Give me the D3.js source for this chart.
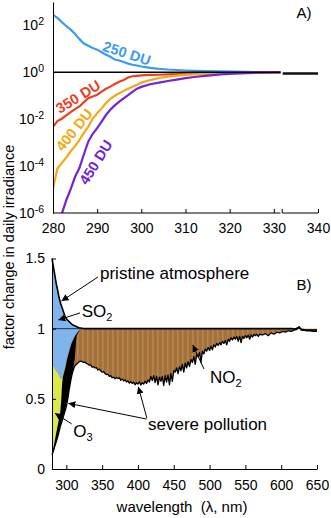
<!DOCTYPE html>
<html>
<head>
<meta charset="utf-8">
<script src="https://cdn.jsdelivr.net/npm/d3@7"></script>
<style>
  body { margin: 0; background: #fff; }
  svg { display: block; font-family: "Liberation Sans", Arial, Helvetica, sans-serif; }
</style>
</head>
<body>
<script>
// ---- panel A: factor change vs ozone column (log scale) ----
const waveA = [280, 281, 282, 283, 284, 285, 286, 287, 288, 289, 290, 291, 292, 293, 294, 295, 296, 297, 298, 299, 300, 302, 304, 306, 308, 310, 312, 315, 318, 321, 324, 327, 330, 331.5]
const du250 = [282, 209, 138, 95, 66, 43, 26, 17, 13.5, 11, 9.3, 7.2, 5.6, 4.6, 3.5, 3.2, 2.75, 2.35, 2.1, 1.95, 1.78, 1.55, 1.41, 1.32, 1.26, 1.2, 1.16, 1.12, 1.1, 1.07, 1.05, 1.02, 1.01, 1.0]
const du350 = [0.0048, 0.0083, 0.0105, 0.0145, 0.02, 0.027, 0.035, 0.054, 0.079, 0.093, 0.11, 0.15, 0.2, 0.245, 0.32, 0.4, 0.47, 0.6, 0.68, 0.71, 0.74, 0.78, 0.79, 0.82, 0.85, 0.87, 0.89, 0.91, 0.93, 0.95, 0.966, 0.977, 0.989, 0.993]
const du400 = [1.1e-5, 7.9e-5, 1.38e-4, 2.3e-4, 4.3e-4, 7.1e-4, 1.32e-3, 2.6e-3, 4.8e-3, 0.0107, 0.018, 0.029, 0.049, 0.074, 0.1, 0.129, 0.162, 0.2, 0.245, 0.295, 0.363, 0.468, 0.575, 0.66, 0.724, 0.776, 0.822, 0.871, 0.902, 0.933, 0.955, 0.973, 0.986, 0.991]
const du450 = [1.6e-7, 4e-7, 9.3e-7, 3.5e-6, 1.05e-5, 3.5e-5, 8.5e-5, 3.2e-4, 1.12e-3, 2.4e-3, 4.2e-3, 7.9e-3, 0.0151, 0.0257, 0.039, 0.056, 0.078, 0.107, 0.148, 0.2, 0.24, 0.31, 0.363, 0.427, 0.49, 0.562, 0.631, 0.724, 0.813, 0.881, 0.933, 0.966, 0.984, 0.989]
const refWaveA = [280, 331.5]
const refA = [1, 1]
const tailWaveA = [332, 340]
const tailA = [0.9, 0.9]
const xTicksA = [280, 290, 300, 310, 320, 330, 340]
const yTicksA = [1e-6, 1e-4, 1e-2, 1, 1e2]

// ---- panel B: pristine vs severe pollution ----
const uvWave = [280, 282, 284, 286, 288, 290, 292, 294, 296, 298, 300, 302, 304, 306, 308, 310, 312, 314, 316, 318, 320, 322, 324, 326, 328, 330]
const pristineUV = [1.5, 1.44, 1.38, 1.32, 1.27, 1.22, 1.18, 1.15, 1.12, 1.09, 1.07, 1.06, 1.05, 1.04, 1.03, 1.025, 1.02, 1.015, 1.01, 1.007, 1.005, 1.003, 1.001, 1.0, 1.0, 1.0]
const afterSO2 = [0.76, 0.735, 0.715, 0.7, 0.685, 0.665, 0.645, 0.645, 0.67, 0.72, 0.77, 0.81, 0.845, 0.875, 0.905, 0.93, 0.95, 0.965, 0.978, 0.99, 0.996, 1.0, 1.0, 1.0, 1.0, 1.0]
const severeUV = [0.1, 0.13, 0.165, 0.195, 0.23, 0.27, 0.31, 0.34, 0.375, 0.41, 0.445, 0.5, 0.565, 0.625, 0.675, 0.71, 0.735, 0.745, 0.755, 0.765, 0.768, 0.765, 0.76, 0.762, 0.752, 0.748]
const pristineTailWave = [400, 500, 600, 615, 620, 625, 628, 635, 650]
const pristineTail = [1.0, 1.0, 1.0, 1.0, 0.998, 1.012, 0.995, 0.99, 0.99]
const visWave = [332, 334, 336, 338, 340, 342, 344, 346, 348, 350, 352, 354, 356, 358, 360, 362, 364, 366, 368, 370,
  372, 374, 376, 378, 380, 382, 384, 386, 388, 390, 392, 394, 396, 398, 400, 402, 404, 406, 408, 410,
  412, 414, 416, 418, 420, 422, 424, 426, 428, 430, 432, 434, 436, 438, 440, 442, 444, 446, 448, 450,
  452, 454, 456, 458, 460, 462, 464, 466, 468, 470, 472, 474, 476, 478, 480, 482, 484, 486, 488, 490,
  492, 494, 496, 498, 500, 502, 504, 506, 508, 510, 512, 514, 516, 518, 520, 522, 524, 526, 528, 530,
  532, 534, 536, 538, 540, 542, 544, 546, 548, 550, 552, 554, 556, 558, 560, 562, 564, 566, 568, 570,
  574, 578, 582, 586, 590, 594, 598, 602, 606, 610, 614, 618, 622, 625, 628, 632, 636, 640, 645, 650]
const severeVis = [0.74, 0.742, 0.725, 0.73, 0.72, 0.722, 0.705, 0.712, 0.7, 0.69, 0.695, 0.68, 0.672, 0.676, 0.66, 0.665, 0.65, 0.655, 0.642, 0.652,
  0.645, 0.65, 0.632, 0.642, 0.628, 0.635, 0.62, 0.628, 0.612, 0.622, 0.61, 0.618, 0.6, 0.615, 0.605, 0.622, 0.598, 0.615, 0.605, 0.625,
  0.61, 0.635, 0.62, 0.66, 0.63, 0.665, 0.615, 0.66, 0.6, 0.655, 0.625, 0.66, 0.595, 0.665, 0.62, 0.67, 0.6, 0.68, 0.625, 0.7,
  0.69, 0.72, 0.68, 0.73, 0.7, 0.745, 0.69, 0.755, 0.72, 0.765, 0.73, 0.78, 0.76, 0.8, 0.745, 0.815, 0.8, 0.83, 0.76, 0.84,
  0.82, 0.855, 0.84, 0.865, 0.845, 0.875, 0.85, 0.885, 0.87, 0.895, 0.88, 0.9, 0.885, 0.91, 0.895, 0.915, 0.885, 0.925, 0.91, 0.935,
  0.92, 0.94, 0.925, 0.945, 0.91, 0.945, 0.9, 0.945, 0.93, 0.95, 0.935, 0.955, 0.925, 0.955, 0.94, 0.96, 0.95, 0.96, 0.945, 0.96,
  0.955, 0.965, 0.95, 0.97, 0.96, 0.975, 0.97, 0.98, 0.975, 0.985, 0.98, 0.99, 0.995, 1.01, 0.99, 0.988, 0.985, 0.985, 0.98, 0.98]
// dark band of the steep UV edge, given as wavelength edges at each level
const bandLevel = [0.1, 0.2, 0.3, 0.4, 0.5, 0.6, 0.65, 0.72, 0.8, 0.9, 0.95, 0.99]
const bandLeft = [280, 283.8, 287.5, 291.5, 293, 294, 295, 298.5, 302, 307.5, 312.5, 318]
const bandRight = [280.5, 286.5, 291, 297, 302, 305, 306.5, 310, 312, 313.5, 314.5, 318.5]
const xTicksB = [300, 350, 400, 450, 500, 550, 600, 650]
const yTicksB = [0, 0.5, 1, 1.5]

const width = 331
const height = 518
const tickFont = 14
const labelFont = 15
const noteFont = 17

const svg = d3.select('body').append('svg')
  .attr('width', width).attr('height', height)

const defs = svg.append('defs')
defs.append('marker')
  .attr('id', 'arrow')
  .attr('viewBox', '0 0 10 10')
  .attr('refX', 10).attr('refY', 5)
  .attr('markerWidth', 7).attr('markerHeight', 7)
  .attr('markerUnits', 'userSpaceOnUse')
  .attr('orient', 'auto')
  .append('path').attr('d', 'M0,0L10,5L0,10z').attr('fill', '#000')

const stripes = defs.append('pattern')
  .attr('id', 'brown')
  .attr('patternUnits', 'userSpaceOnUse')
  .attr('width', 5).attr('height', 20)
stripes.append('rect').attr('width', 5).attr('height', 20).attr('fill', '#a5713b')
stripes.append('rect').attr('x', 2).attr('width', 1.6).attr('height', 20).attr('fill', '#c4955f').attr('opacity', 0.55)

// ================= panel A =================
const xA = d3.scaleLinear().domain([280, 340]).range([53, 318])
const yA = d3.scaleLog().domain([1e-6, 1e3]).range([213, 2])
const breakA = 331.6

defs.append('clipPath').attr('id', 'clipA')
  .append('rect')
  .attr('x', xA(280)).attr('y', yA(1e3))
  .attr('width', xA(breakA) - xA(280)).attr('height', yA(1e-6) - yA(1e3))

const gA = svg.append('g')
const linesA = gA.append('g').attr('clip-path', 'url(#clipA)')

const seriesA = [
  { values: du250, color: '#3a9bf2' },
  { values: du350, color: '#e8401e' },
  { values: du400, color: '#f6a811' },
  { values: du450, color: '#7424d6' }
]
const lineA = d3.line().x((d, i) => xA(waveA[i])).y(d => yA(d))
seriesA.forEach(s => {
  linesA.append('path')
    .attr('d', lineA(s.values))
    .attr('fill', 'none')
    .attr('stroke', s.color)
    .attr('stroke-width', 2.2)
})
linesA.append('path')
  .attr('d', d3.line().x((d, i) => xA(refWaveA[i])).y(d => yA(d))(refA))
  .attr('fill', 'none').attr('stroke', '#000').attr('stroke-width', 1.5)
gA.append('path')
  .attr('d', d3.line().x((d, i) => xA(tailWaveA[i])).y(d => yA(d))(tailA))
  .attr('fill', 'none').attr('stroke', '#111').attr('stroke-width', 2.5)

const xAxisA = gA.append('g')
  .attr('transform', `translate(0,${yA(1e-6)})`)
  .call(d3.axisBottom(xA).tickValues(xTicksA).tickSizeInner(-4).tickSizeOuter(0).tickPadding(10.5))
xAxisA.select('.domain').remove()
xAxisA.append('line')
  .attr('x1', xA(280)).attr('x2', xA(331.5)).attr('stroke', '#000')
xAxisA.append('line')
  .attr('x1', xA(331.9)).attr('x2', xA(340)).attr('stroke', '#000')
xAxisA.append('line')
  .attr('x1', xA(331.9)).attr('x2', xA(331.9)).attr('y2', -4).attr('stroke', '#000')

const yAxisA = gA.append('g')
  .attr('transform', `translate(${xA(280)},0)`)
  .call(d3.axisLeft(yA).tickValues(yTicksA).tickSize(0).tickPadding(9))
yAxisA.selectAll('.tick text').each(function (d) {
  const t = d3.select(this)
  t.text(null)
  t.append('tspan').text('10')
  t.append('tspan').attr('dy', '-0.5em').style('font-size', '10.5px').text(Math.round(Math.log10(d)))
})

const labelsA = [
  { text: '250 DU', wave: 296.7, value: 6.5, angle: 18, color: '#3a9bf2' },
  { text: '350 DU', wave: 285.7, value: 0.091, angle: -31.6, color: '#e8401e' },
  { text: '400 DU', wave: 284.8, value: 0.0035, angle: -51.6, color: '#f6a811' },
  { text: '450 DU', wave: 289.7, value: 1.45e-4, angle: -58, color: '#7424d6' }
]
gA.selectAll('.du').data(labelsA).join('text')
  .attr('class', 'du')
  .attr('transform', d => `translate(${xA(d.wave)},${yA(d.value)}) rotate(${d.angle})`)
  .attr('text-anchor', 'middle')
  .attr('dominant-baseline', 'central')
  .style('font-size', '14.5px')
  .style('font-weight', 'bold')
  .attr('fill', d => d.color)
  .text(d => d.text)

gA.append('text')
  .attr('x', 296.5).attr('y', 18)
  .style('font-size', labelFont + 'px')
  .text('A)')

// ================= panel B =================
const xB = d3.scaleLinear().domain([280, 650]).range([52, 317])
const yB = d3.scaleLinear().domain([0, 1.5]).range([469, 258.5])
const gB = svg.append('g')

const severeWave = uvWave.concat(visWave)
const severe = severeUV.concat(severeVis)
const pristineWave = uvWave.concat(pristineTailWave)
const pristine = pristineUV.concat(pristineTail)

// NO2 (brown) between severe curve and 1
gB.append('path')
  .attr('d', d3.area().x((d, i) => xB(severeWave[i])).y0(d => yB(d)).y1(yB(1))(severe))
  .attr('fill', 'url(#brown)')

// O3 (yellow) between SO2 curve and severe curve
const uvIdx = uvWave.map((w, i) => i).filter(i => uvWave[i] <= 300)
gB.append('path')
  .attr('d', d3.area().x(i => xB(uvWave[i])).y0(i => yB(severeUV[i])).y1(i => yB(afterSO2[i]))(uvIdx))
  .attr('fill', '#dde84c')

// SO2 (blue): above 1 under pristine curve, and below 1 down to SO2 curve
gB.append('path')
  .attr('d', d3.area().x((d, i) => xB(uvWave[i])).y0(yB(1)).y1(d => yB(d))(pristineUV))
  .attr('fill', '#80b4ec')
gB.append('path')
  .attr('d', d3.area().x((d, i) => xB(uvWave[i])).y0(d => yB(d)).y1(yB(1))(afterSO2))
  .attr('fill', '#80b4ec')

// dark band at the steep edge
gB.append('path')
  .attr('d', d3.area()
    .y((d, i) => yB(bandLevel[i]))
    .x0((d, i) => xB(bandLeft[i]))
    .x1((d, i) => xB(bandRight[i]))(bandLevel))
  .attr('fill', '#000')

gB.append('line')
  .attr('x1', xB(280)).attr('x2', xB(326))
  .attr('y1', yB(1)).attr('y2', yB(1))
  .attr('stroke', '#1b2f55').attr('stroke-width', 1)

gB.append('path')
  .attr('d', d3.line().x((d, i) => xB(severeWave[i])).y(d => yB(d))(severe))
  .attr('fill', 'none').attr('stroke', '#000').attr('stroke-width', 1.3)
  .attr('stroke-linejoin', 'round')
gB.append('path')
  .attr('d', d3.line().x((d, i) => xB(pristineWave[i])).y(d => yB(d))(pristine))
  .attr('fill', 'none').attr('stroke', '#000').attr('stroke-width', 1.6)

const xAxisB = gB.append('g')
  .attr('transform', `translate(0,${yB(0)})`)
  .call(d3.axisBottom(xB).tickValues(xTicksB).tickSizeInner(-4).tickSizeOuter(0).tickPadding(11))

const yAxisB = gB.append('g')
  .attr('transform', `translate(${xB(280)},0)`)
  .call(d3.axisLeft(yB).tickValues(yTicksB).tickSizeInner(-4).tickSizeOuter(0).tickPadding(7)
    .tickFormat(d3.format('')))

svg.selectAll('.tick text').style('font-size', tickFont + 'px').attr('fill', '#000')
svg.selectAll('.tick line').attr('stroke', '#000')
svg.selectAll('.domain').attr('stroke', '#000')

gB.append('text')
  .attr('x', 182).attr('y', 512)
  .attr('text-anchor', 'middle')
  .style('font-size', labelFont + 'px')
  .style('white-space', 'pre')
  .text('wavelength  (\u03bb, nm)')

svg.append('text')
  .attr('transform', 'translate(13.5,247) rotate(-90)')
  .attr('text-anchor', 'middle')
  .style('font-size', '14.5px')
  .text('factor change in daily irradiance')

gB.append('text')
  .attr('x', 296.5).attr('y', 290)
  .style('font-size', labelFont + 'px')
  .text('B)')

// annotations (positions in data units)
const notes = [
  { text: 'pristine atmosphere', wave: 347, value: 1.354 },
  { text: 'SO', sub: '2', wave: 321.5, value: 1.083 },
  { text: 'O', sub: '3', wave: 309.7, value: 0.228 },
  { text: 'severe pollution', wave: 414, value: 0.278 },
  { text: 'NO', sub: '2', wave: 500.6, value: 0.613 }
]
notes.forEach(n => {
  const t = gB.append('text')
    .attr('x', xB(n.wave)).attr('y', yB(n.value))
    .style('font-size', noteFont + 'px')
  t.append('tspan').text(n.text)
  if (n.sub) t.append('tspan').attr('dy', '0.35em').style('font-size', '11px').text(n.sub)
})

const arrows = [
  { from: [344.2, 1.368], to: [293.3, 1.197] },
  { from: [319.1, 1.112], to: [288.8, 1.062] },
  { from: [307.5, 0.321], to: [284.2, 0.397] },
  { from: [412, 0.356], to: [302.8, 0.468] },
  { from: [412.5, 0.362], to: [400.5, 0.586] },
  { from: [492.2, 0.713], to: [476.5, 0.884] }
]
gB.selectAll('.arrow').data(arrows).join('line')
  .attr('class', 'arrow')
  .attr('x1', d => xB(d.from[0])).attr('y1', d => yB(d.from[1]))
  .attr('x2', d => xB(d.to[0])).attr('y2', d => yB(d.to[1]))
  .attr('stroke', '#000').attr('stroke-width', 1)
  .attr('marker-end', 'url(#arrow)')
</script>
</body>
</html>
